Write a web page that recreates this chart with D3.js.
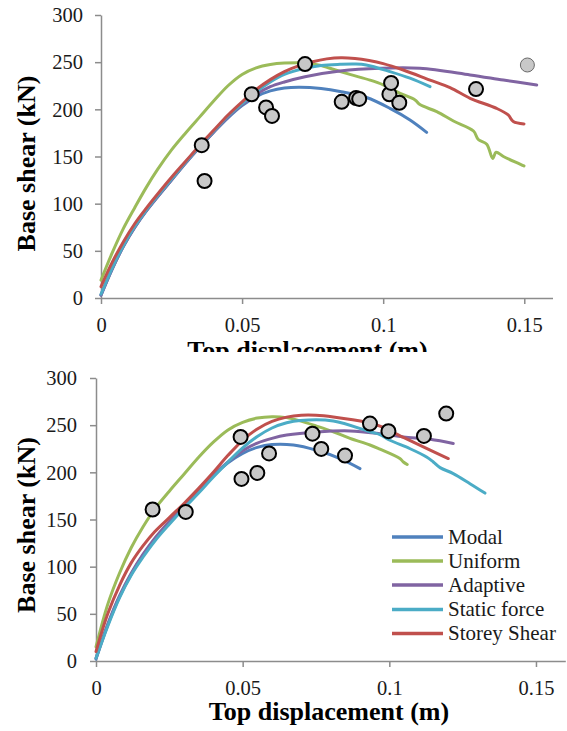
<!DOCTYPE html>
<html><head><meta charset="utf-8">
<script src="https://cdn.jsdelivr.net/npm/d3@7"></script>
<style>
html,body{margin:0;padding:0;background:#fff;}
svg{display:block;}
</style></head>
<body>
<svg id="chart" width="567" height="731"></svg>
<script>
// ---------- DATA ----------
const seriesNames = ["Modal","Uniform","Adaptive","Static force","Storey Shear"];
const xTicks = [0, 0.05, 0.1, 0.15];
const xTickLabels = ["0","0.05","0.1","0.15"];
const yTicks = [0, 50, 100, 150, 200, 250, 300];

// Top chart curves [displacement m, base shear kN]
const topModal = [[0,3],[0.004,31],[0.008,55],[0.012,75],[0.016,92],[0.02,107],[0.025,125],[0.03,143],[0.035,160],[0.04,176],[0.045,191],[0.05,204],[0.055,213.5],[0.06,219.5],[0.065,222.6],[0.0705,223.4],[0.078,222],[0.0847,219],[0.0941,212.5],[0.1024,201],[0.1095,188.7],[0.1154,175.6]];
const topUniform = [[0,19],[0.004,48],[0.008,74],[0.012,96],[0.016,117],[0.02,136],[0.025,157],[0.03,175],[0.035,192],[0.04,209],[0.045,225],[0.05,237],[0.055,244],[0.06,247.5],[0.065,249],[0.072,249.2],[0.078,246.5],[0.0811,243.5],[0.0882,237],[0.0953,231],[0.1,226],[0.106,217],[0.1113,210],[0.113,205],[0.119,197.5],[0.1249,187.6],[0.132,177],[0.1337,168],[0.1367,163],[0.1388,148],[0.14,154.5],[0.1426,150],[0.1499,140]];
const topAdaptive = [[0,3],[0.004,31],[0.008,55],[0.012,75],[0.016,92],[0.02,107],[0.025,125],[0.03,143],[0.035,160],[0.04,176],[0.045,192],[0.05,205],[0.055,216],[0.06,224],[0.065,229],[0.0723,234.6],[0.0847,240.6],[0.0989,243.5],[0.113,243.5],[0.1308,236.4],[0.1426,231],[0.1544,225.8]];
const topStatic = [[0,4],[0.004,32],[0.008,56],[0.012,76],[0.016,93],[0.02,108],[0.025,126],[0.03,144],[0.035,161],[0.04,177],[0.045,193],[0.05,206],[0.055,218.5],[0.06,229],[0.065,237],[0.0723,243.5],[0.078,246.5],[0.0847,247.7],[0.09,248],[0.094,247],[0.1024,240],[0.1095,233],[0.1166,224]];
const topStorey = [[0,12],[0.004,38],[0.008,60],[0.012,79],[0.016,95],[0.02,110],[0.025,128],[0.03,145],[0.035,162],[0.04,178],[0.045,194],[0.05,208],[0.055,221],[0.06,231.5],[0.065,240],[0.07,246],[0.075,250.5],[0.08,253.5],[0.085,254.8],[0.09,254],[0.095,251.8],[0.1,248.5],[0.1071,241.7],[0.1166,231],[0.1237,223],[0.1308,211.7],[0.1402,201],[0.1443,194],[0.1461,187],[0.1499,184.5]];
const topPoints = [[0.0357,162],[0.0367,124],[0.0534,216],[0.0585,202],[0.0606,193],[0.0723,248],[0.0853,208],[0.0904,212],[0.0915,211],[0.1022,216],[0.1028,228],[0.1057,207],[0.1329,221.5]];
const topPointsLight = [[0.1511,247]];

// Bottom chart curves
const botModal = [[0,2],[0.004,38],[0.008,68],[0.012,92],[0.016,112],[0.02,129],[0.025,147],[0.03,164],[0.035,180],[0.04,196],[0.045,210],[0.05,220],[0.055,226.5],[0.06,229.5],[0.0673,229],[0.0752,223.4],[0.0832,214.6],[0.09,204]];
const botUniform = [[0,15],[0.004,60],[0.008,93],[0.012,120],[0.016,142],[0.02,161],[0.025,180],[0.03,198],[0.035,216],[0.04,232],[0.045,245],[0.05,253],[0.055,257.5],[0.06,259],[0.065,258],[0.0696,254.5],[0.0752,249],[0.0809,243],[0.0866,236],[0.0934,229],[0.0968,224.5],[0.1036,214.6],[0.1048,211],[0.1061,208.3]];
const botAdaptive = [[0,3],[0.004,39],[0.008,69],[0.012,93],[0.016,113],[0.02,130],[0.025,148],[0.03,165],[0.035,181],[0.04,197],[0.045,211],[0.05,223],[0.055,231],[0.06,236],[0.065,239.5],[0.0752,242.8],[0.0866,243.9],[0.0968,241],[0.1048,237.5],[0.1139,235],[0.1218,230.5]];
const botStatic = [[0,3],[0.004,37],[0.008,67],[0.012,91],[0.016,110],[0.02,127],[0.025,145],[0.03,162],[0.035,178],[0.04,195],[0.045,211],[0.05,226],[0.055,238],[0.06,247],[0.065,252.5],[0.0696,255],[0.0809,254.5],[0.0934,243],[0.0968,240],[0.1002,234],[0.1071,225],[0.1127,216.3],[0.115,211],[0.1173,205],[0.1218,198.7],[0.1275,188],[0.1326,178]];
const botStorey = [[0,10],[0.004,50],[0.008,80],[0.012,104],[0.016,122],[0.02,137],[0.025,152],[0.03,167],[0.035,183],[0.04,200],[0.045,218],[0.05,234],[0.055,246],[0.06,254],[0.065,258.5],[0.07,260.5],[0.075,260.5],[0.0809,258.7],[0.0923,253],[0.0968,249],[0.1048,237],[0.1116,227],[0.1201,214.6]];
const botPoints = [[0.0193,160.6],[0.0306,158],[0.0493,237.5],[0.0496,193],[0.055,199.4],[0.059,220],[0.0738,241],[0.0768,224.8],[0.0849,217.8],[0.0934,251.7],[0.0997,243.6],[0.1118,238.6],[0.1194,262.3]];

const colors = ["#4F81BD","#9BBB59","#8064A2","#4BACC6","#C0504D"];
const SERIF = "'Liberation Serif', 'Times New Roman', serif";

// ---------- DRAW ----------
const svg = d3.select("#chart");

svg.append("defs").append("clipPath").attr("id","topClip")
  .append("rect").attr("x",0).attr("y",0).attr("width",567).attr("height",352);

function drawChart(cfg) {
  const g = svg.append("g");
  const x = d3.scaleLinear().domain([0,0.16]).range([cfg.left, cfg.right]);
  const y = d3.scaleLinear().domain([0,300]).range([cfg.bottom, cfg.top]);

  // axes
  const xa = g.append("g").attr("transform",`translate(0,${cfg.bottom})`)
    .call(d3.axisBottom(x).tickValues(xTicks).tickFormat((d,i)=>xTickLabels[i]).tickSize(6).tickSizeOuter(0));
  const ya = g.append("g").attr("transform",`translate(${cfg.left},0)`)
    .call(d3.axisLeft(y).tickValues(yTicks).tickSize(6).tickSizeOuter(0));
  [xa, ya].forEach(a => {
    a.attr("font-family", SERIF).attr("font-size", 20.5);
    a.select(".domain").attr("stroke","#8c8c8c").attr("stroke-width",1.5);
    a.selectAll(".tick line").attr("stroke","#8c8c8c").attr("stroke-width",1.5);
    a.selectAll(".tick text").attr("fill","#1a1a1a").attr("font-family", SERIF).attr("font-size", 20.5);
  });
  xa.selectAll(".tick text").attr("y",34).attr("dy",null);
  ya.selectAll(".tick text").attr("x",-cfg.yLabelGap).attr("dy","0.33em");

  // lines
  const line = d3.line().x(d=>x(d[0])).y(d=>y(d[1])).curve(d3.curveCatmullRom.alpha(0.5));
  cfg.series.forEach((s,i)=>{
    g.append("path").datum(s).attr("d",line).attr("fill","none")
      .attr("stroke",colors[i]).attr("stroke-width",3).attr("stroke-linejoin","round").attr("stroke-linecap","round");
  });

  // markers
  g.selectAll("circle.pt").data(cfg.points).join("circle").attr("class","pt")
    .attr("cx",d=>x(d[0])).attr("cy",d=>y(d[1])).attr("r",7)
    .attr("fill","#c8c8c8").attr("stroke","#000").attr("stroke-width",2);
  if (cfg.lightPoints) {
    g.selectAll("circle.lpt").data(cfg.lightPoints).join("circle").attr("class","lpt")
      .attr("cx",d=>x(d[0])).attr("cy",d=>y(d[1])).attr("r",7)
      .attr("fill","#c8c8c8").attr("stroke","#6a6a6a").attr("stroke-width",1);
  }

  // axis titles
  const xt = g.append("text").attr("x",cfg.xTitleX).attr("y",cfg.bottom+cfg.xTitleDy)
    .attr("text-anchor","middle").attr("font-family",SERIF).attr("font-size",26).attr("font-weight","bold")
    .attr("fill","#000").text("Top displacement (m)");
  if (cfg.clipTitle) xt.attr("clip-path","url(#topClip)");
  g.append("text").attr("transform",`translate(35,${cfg.yTitleY}) rotate(-90)`)
    .attr("text-anchor","middle").attr("font-family",SERIF).attr("font-size",26).attr("font-weight","bold")
    .attr("fill","#000").text("Base shear (kN)");
  return {x,y,g};
}

drawChart({left:101, right:552.5, top:15, bottom:298, yLabelGap:18, xTitleX:307.5, xTitleDy:61, yTitleY:163.5,
  clipTitle:true, series:[topModal, topUniform, topAdaptive, topStatic, topStorey], points:topPoints, lightPoints:topPointsLight});

drawChart({left:96, right:565.3, top:378, bottom:661, yLabelGap:19, xTitleX:329, xTitleDy:59, yTitleY:525,
  clipTitle:false, series:[botModal, botUniform, botAdaptive, botStatic, botStorey], points:botPoints});

// legend
const legY = [537, 561, 585, 609.5, 633.5];
const leg = svg.append("g");
seriesNames.forEach((name,i)=>{
  leg.append("line").attr("x1",392).attr("x2",443).attr("y1",legY[i]).attr("y2",legY[i])
    .attr("stroke",colors[i]).attr("stroke-width",3.5);
  leg.append("text").attr("x",448).attr("y",legY[i]).attr("dy","0.33em")
    .attr("font-family",SERIF).attr("font-size",21).attr("fill","#1a1a1a").text(name);
});
</script>
</body></html>
